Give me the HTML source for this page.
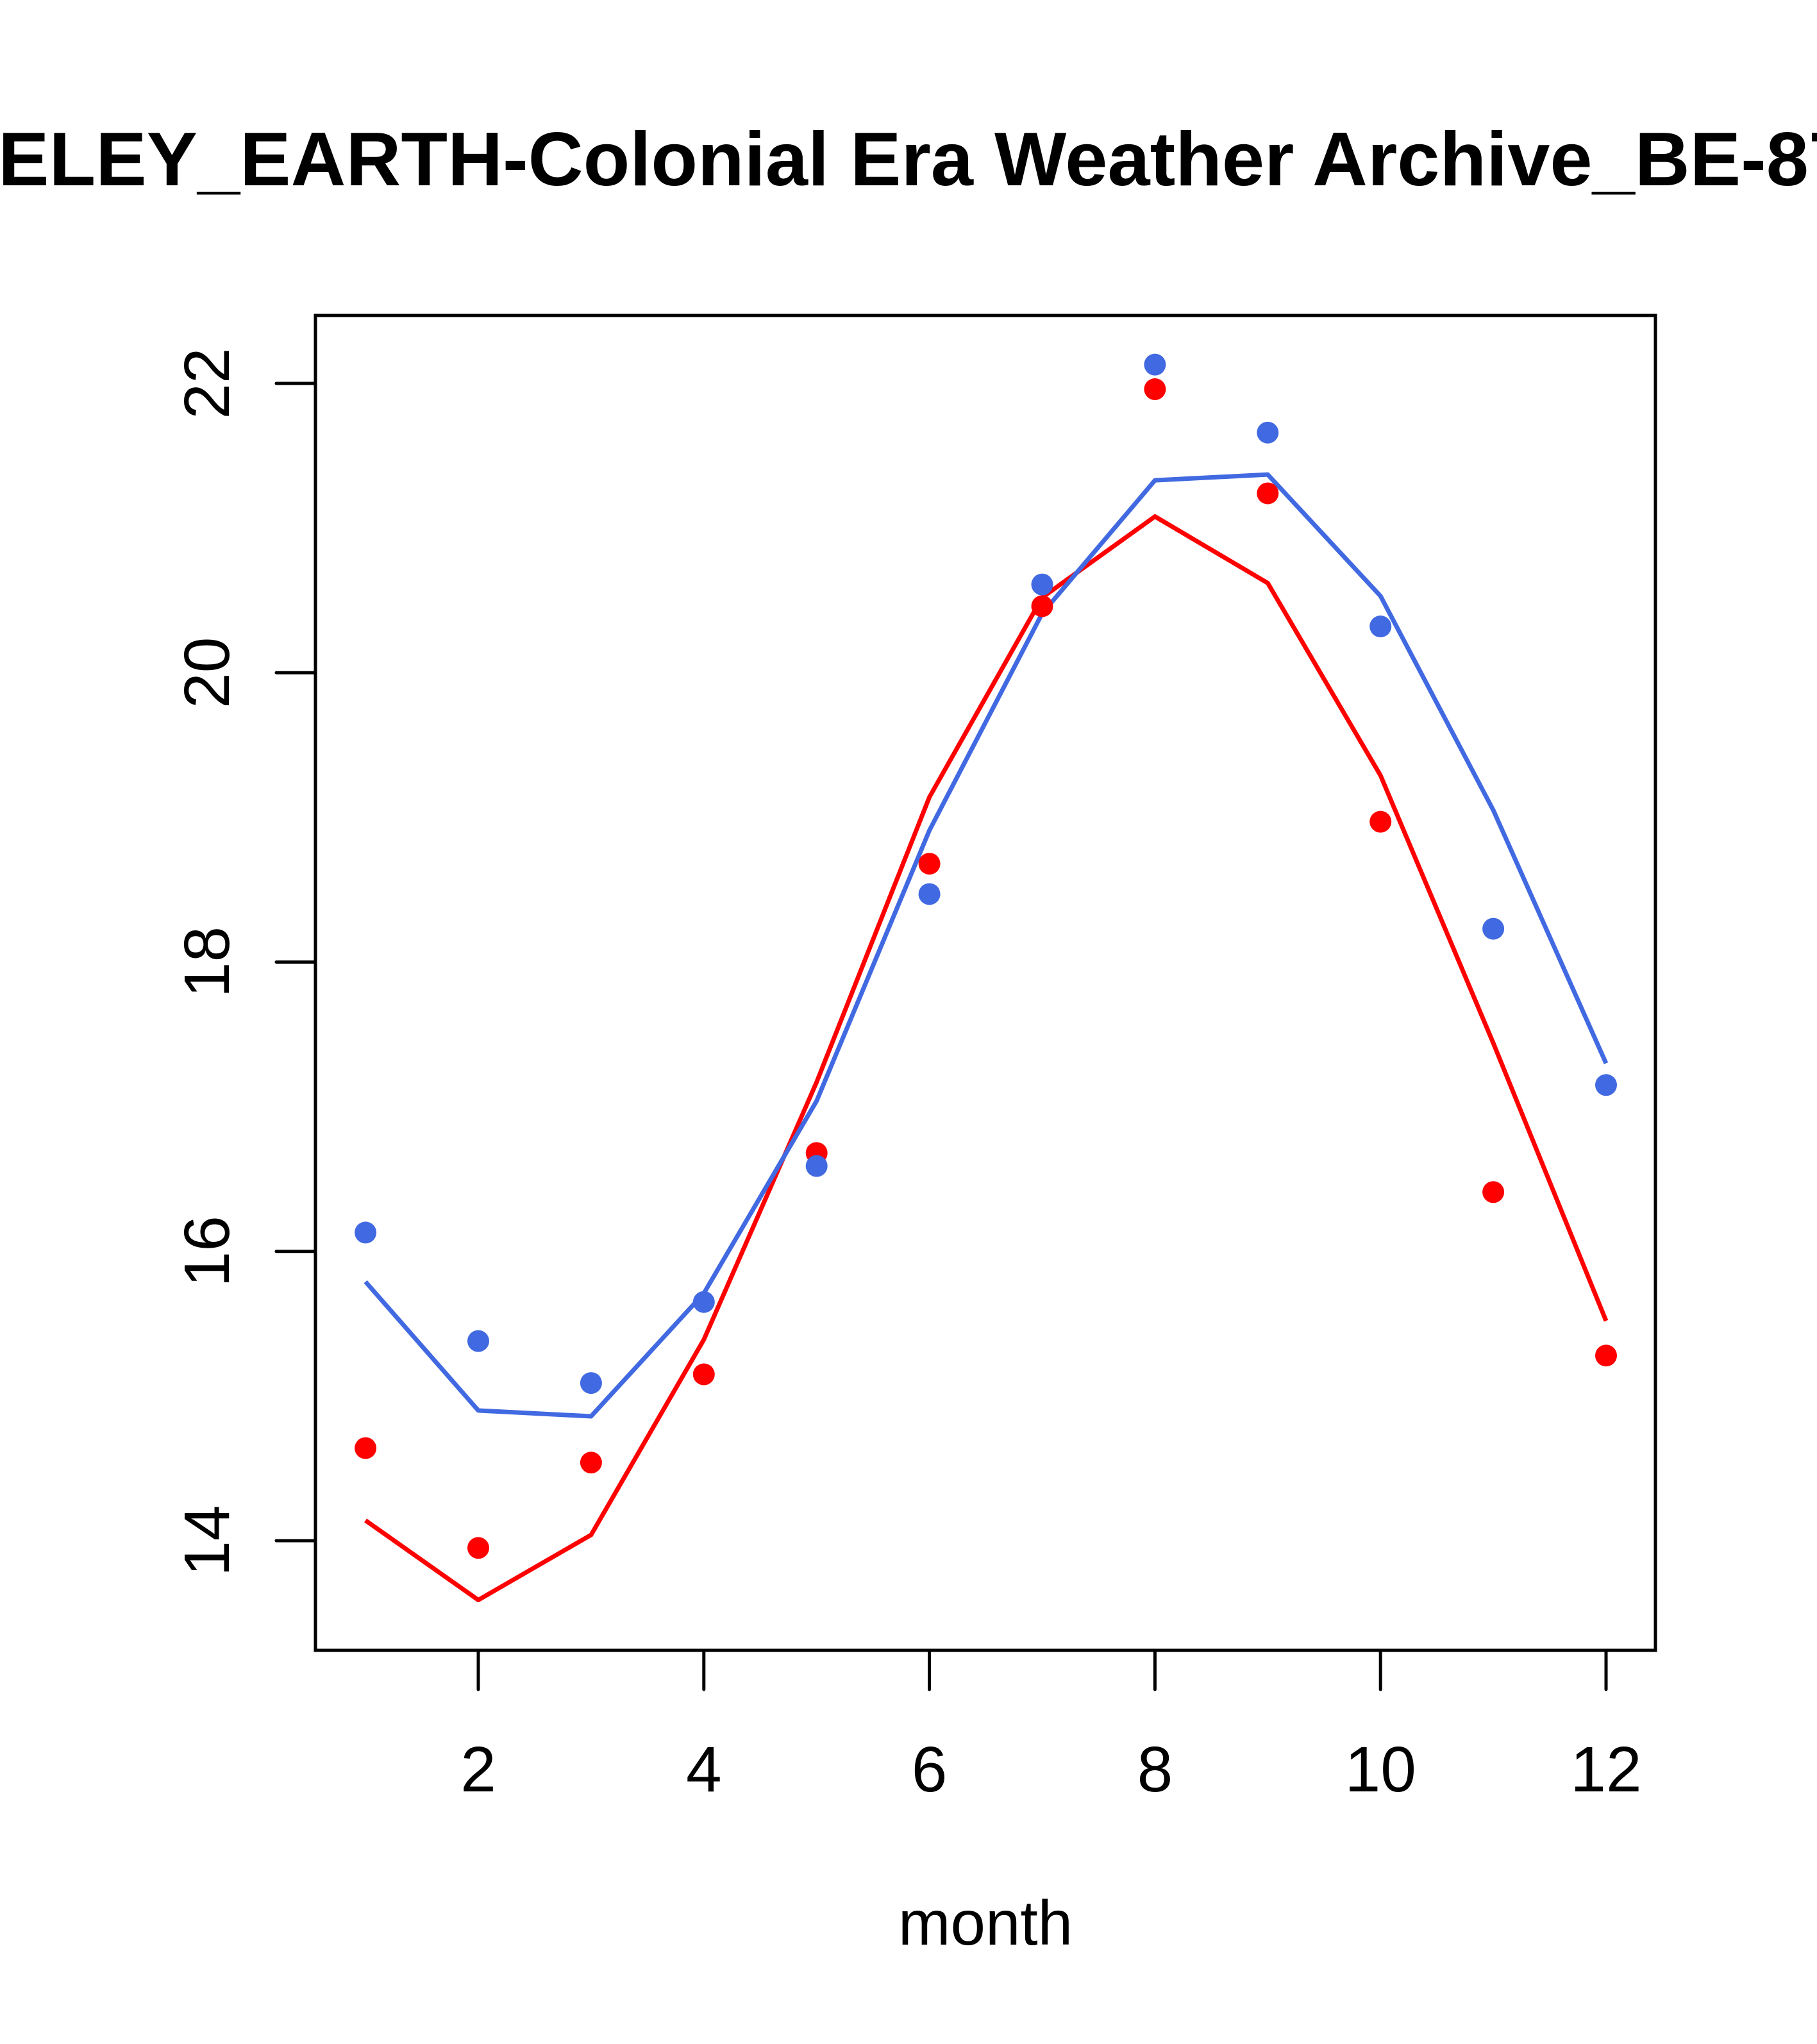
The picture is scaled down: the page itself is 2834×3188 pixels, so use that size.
<!DOCTYPE html>
<html><head><meta charset="utf-8"><style>
html,body{margin:0;padding:0;background:#fff;}
svg{display:block;font-family:"Liberation Sans",Arial,sans-serif;}
</style></head><body>
<svg id="chart" width="2834" height="3188" viewBox="0 0 2834 3188" xmlns="http://www.w3.org/2000/svg">
<rect width="2834" height="3188" fill="#fff"/>
<text x="-340" y="289" text-anchor="start" font-size="119" font-weight="bold">BERKELEY_EARTH-Colonial Era Weather Archive_BE-8765</text>
<g id="plot"></g>
<text x="1537" y="3033" text-anchor="middle" font-size="98">month</text>
</svg>
<script>
const months = [1,2,3,4,5,6,7,8,9,10,11,12];
const bluePoints = [16.13,15.38,15.09,15.65,16.59,18.47,20.61,22.13,21.66,20.32,18.23,17.15];
const redPoints = [14.64,13.95,14.54,15.15,16.68,18.68,20.46,21.96,21.24,18.97,16.41,15.28];
const blueLine = [15.79,14.90,14.86,15.71,17.04,18.91,20.41,21.33,21.37,20.53,19.05,17.30];
const redLine = [14.14,13.59,14.04,15.39,17.17,19.14,20.52,21.08,20.62,19.29,17.44,15.52];
const xTicks = [2,4,6,8,10,12];
const yTicks = [14,16,18,20,22];

const NS = "http://www.w3.org/2000/svg";
const g = document.getElementById('plot');
const L = 492, R = 2582, T = 492, B = 2574;
function sx(v){ return 746 + (v - 2) * (2505 - 746) / 10; }
function sy(v){ return 598 + (22 - v) * (2403 - 598) / 8; }
function mk(tag, attrs){ const e = document.createElementNS(NS, tag); for (const k in attrs) e.setAttribute(k, attrs[k]); g.appendChild(e); return e; }

const box = mk('rect', {x:L, y:T, width:R-L, height:B-T, fill:'none', stroke:'#000', 'stroke-width':5});



xTicks.forEach(v => {
  const t = mk('line', {x1:sx(v), x2:sx(v), y1:B, y2:B+61, stroke:'#000', 'stroke-width':5, 'stroke-linecap':'round'});
  
  
  const l = mk('text', {x:sx(v), y:2794, 'text-anchor':'middle', 'font-size':100});
  l.textContent = v;
  
  
});
yTicks.forEach(v => {
  const t = mk('line', {x1:L-61, x2:L, y1:sy(v), y2:sy(v), stroke:'#000', 'stroke-width':5, 'stroke-linecap':'round'});
  
  
  const l = mk('text', {x:0, y:0, 'text-anchor':'middle', 'font-size':100, transform:'translate(357,' + sy(v) + ') rotate(-90)'});
  l.textContent = v;
  
  
});

function line(vals, color, name){
  const p = mk('polyline', {points: vals.map((v,i) => sx(months[i]) + ',' + sy(v)).join(' '), fill:'none', stroke:color, 'stroke-width':7, 'stroke-linejoin':'round'});
  
  
}
function pts(vals, color, name){
  vals.forEach((v,i) => {
    const c = mk('circle', {cx:sx(months[i]), cy:sy(v), r:17, fill:color});
    
    
  });
}
line(redLine, '#ff0000', 'red-fit-line');
line(blueLine, '#4169e1', 'blue-fit-line');
pts(redPoints, '#ff0000', 'red-point');
pts(bluePoints, '#4169e1', 'blue-point');
</script>
</body></html>
